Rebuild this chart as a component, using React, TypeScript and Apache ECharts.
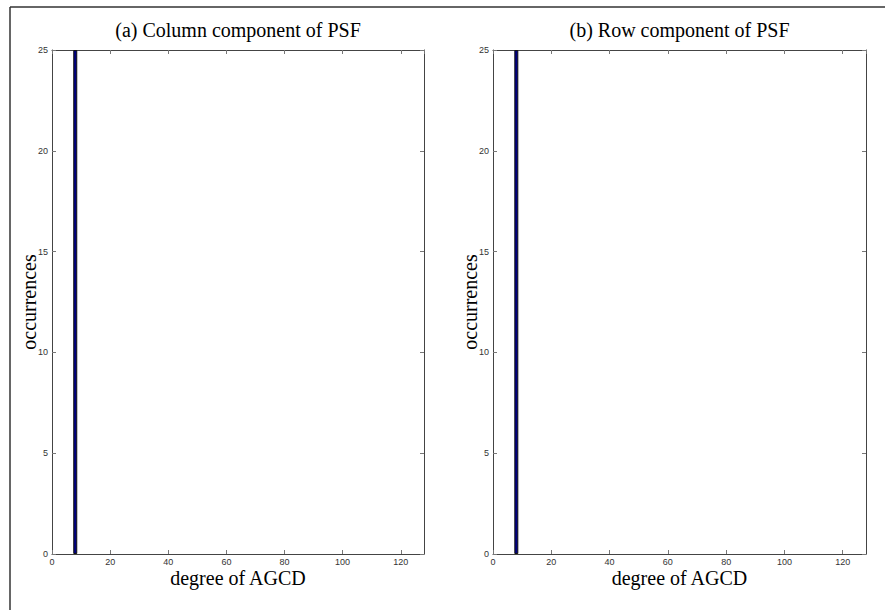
import React, { useEffect, useRef } from "react";
import * as echarts from "echarts";

const degrees: number[] = [8];
const countsA: number[] = [25];
const countsB: number[] = [25];
const panelTitles: string[] = ["(a) Column component of PSF", "(b) Row component of PSF"];
const xName = "degree of AGCD";
const yName = "occurrences";
const xMin = 0, xMax = 128, xStep = 20;
const yMin = 0, yMax = 25, yStep = 5;

export default function App() {
  const ref = useRef<HTMLDivElement>(null);
  useEffect(() => {
    if (!ref.current) return;
    const chart = echarts.init(ref.current, undefined, { renderer: "svg" });
    const serif = "'Liberation Serif', 'Times New Roman', serif";
    const sans = "'Liberation Sans', Arial, sans-serif";
    const grids = [
      { left: 52, top: 50, width: 372, height: 504 },
      { left: 493, top: 50, width: 373, height: 504 },
    ];
    const axisLine = { show: true, onZero: false, lineStyle: { color: "#444", width: 1 } };
    const tick = { show: true, inside: true, length: 4, lineStyle: { color: "#777" } };
    const xAxes: any[] = [];
    const yAxes: any[] = [];
    const series: any[] = [];
    const titles: any[] = [];
    const counts = [countsA, countsB];
    grids.forEach((g, i) => {
      xAxes.push({
        type: "value", gridIndex: i, position: "bottom", min: xMin, max: xMax, interval: xStep,
        axisLine, axisTick: tick, splitLine: { show: false },
        axisLabel: { fontSize: 9, color: "#333", fontFamily: sans, margin: 3, showMaxLabel: false },
        name: xName, nameLocation: "middle", nameGap: 14, nameMoveOverlap: false,
        nameTextStyle: { fontFamily: serif, fontSize: 20, color: "#000" },
      });
      xAxes.push({
        type: "value", gridIndex: i, position: "top", min: xMin, max: xMax, interval: xStep,
        axisLine, axisTick: tick, axisLabel: { show: false }, splitLine: { show: false },
      });
      yAxes.push({
        type: "value", gridIndex: i, position: "left", min: yMin, max: yMax, interval: yStep,
        axisLine, axisTick: tick, splitLine: { show: false },
        axisLabel: { fontSize: 9, color: "#333", fontFamily: sans, margin: 4 },
        name: yName, nameLocation: "middle", nameGap: 13, nameMoveOverlap: false,
        nameTextStyle: { fontFamily: serif, fontSize: 20, color: "#000" },
      });
      yAxes.push({
        type: "value", gridIndex: i, position: "right", min: yMin, max: yMax, interval: yStep,
        axisLine, axisTick: tick, axisLabel: { show: false }, splitLine: { show: false },
      });
      series.push({
        type: "bar", xAxisIndex: i * 2, yAxisIndex: i * 2, barWidth: 4,
        data: degrees.map((d, k) => [d, counts[i][k]]),
        itemStyle: { color: "#000080", borderColor: "#111", borderWidth: 1 },
      });
      titles.push({
        text: panelTitles[i], left: g.left + g.width / 2, top: 20, textAlign: "center", padding: 0,
        textStyle: { fontFamily: serif, fontSize: 20, fontWeight: "normal", color: "#000" },
      });
    });
    chart.setOption({
      animation: false,
      backgroundColor: "#fff",
      title: titles,
      grid: grids,
      xAxis: xAxes,
      yAxis: yAxes,
      series,
      graphic: [
        { type: "line", shape: { x1: 10, y1: 7, x2: 885, y2: 7 }, style: { stroke: "#333", lineWidth: 1.5 } },
        { type: "line", shape: { x1: 10, y1: 7, x2: 10, y2: 610 }, style: { stroke: "#333", lineWidth: 1.5 } },
      ],
    });
    return () => chart.dispose();
  }, []);
  return (
    <div
      ref={ref}
      style={{ position: "fixed", left: 0, top: 0, width: 885, height: 610, background: "#fff" }}
    />
  );
}
